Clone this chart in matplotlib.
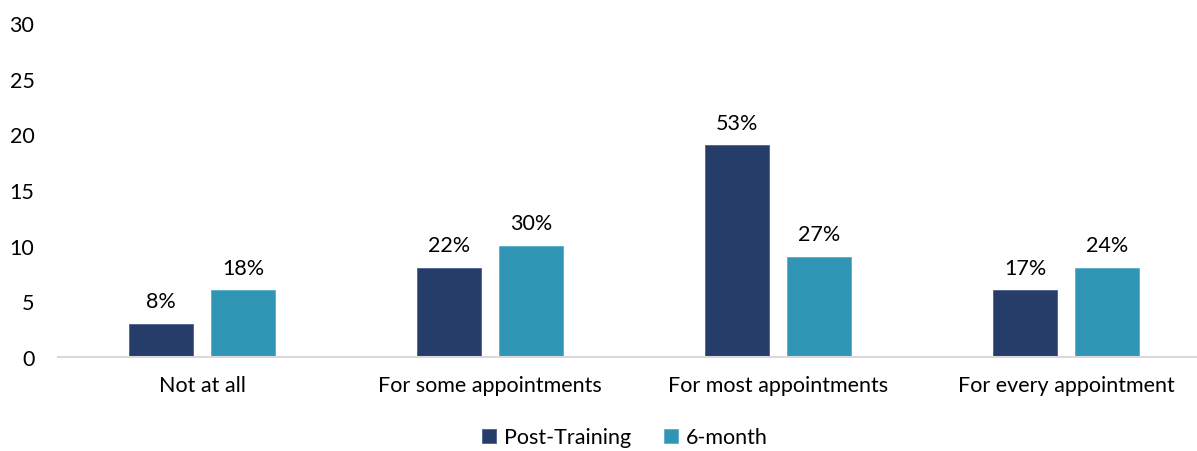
import matplotlib.pyplot as plt
import numpy as np

plt.rcParams['font.family'] = ['Lato', 'DejaVu Sans']

# data
categories = ["Not at all", "For some appointments", "For most appointments", "For every appointment"]
post_training = [3, 8, 19, 6]
six_month = [6, 10, 9, 8]
post_labels = ["8%", "22%", "53%", "17%"]
six_labels = ["18%", "30%", "27%", "24%"]
y_ticks = [0, 5, 10, 15, 20, 25, 30]

navy = "#263d6a"
teal = "#3196b5"
fs = 15.5

fig = plt.figure(figsize=(11.97, 4.52), dpi=100)
ax = fig.add_axes([58 / 1197, 94 / 452, 1139 / 1197, 334 / 452])

x = np.arange(len(categories))
w = 0.222
off = 0.142
b1 = ax.bar(x - off, post_training, w, color=navy, edgecolor="#4a6290", linewidth=0.6, label="Post-Training")
b2 = ax.bar(x + off, six_month, w, color=teal, edgecolor="#5aaecb", linewidth=0.6, label="6-month")

for bars, labs in [(b1, post_labels), (b2, six_labels)]:
    for rect, lab in zip(bars, labs):
        ax.annotate(lab, (rect.get_x() + rect.get_width() / 2, rect.get_height()),
                    xytext=(0, 12), textcoords="offset points",
                    ha="center", va="baseline", fontsize=fs, color="#000000")

ax.set_xlim(-0.5, -0.5 + 1139 / 288)
ax.set_ylim(0, 30)
ax.set_yticks(y_ticks)
ax.set_xticks(x)
ax.set_xticklabels(categories)
ax.tick_params(axis="y", length=0, pad=17, labelsize=fs, labelcolor="#000000")
ax.tick_params(axis="x", length=0, pad=13, labelsize=fs, labelcolor="#000000")

for s in ["top", "right", "left"]:
    ax.spines[s].set_visible(False)
ax.spines["bottom"].set_color("#d9d9d9")
ax.spines["bottom"].set_linewidth(1.5)

fig.legend(handles=[b1, b2], loc="center", bbox_to_anchor=(0.522, 0.03), ncol=2,
           frameon=False, fontsize=fs, handlelength=0.65, handleheight=0.65,
           handletextpad=0.4, columnspacing=1.5, borderpad=0.1)

fig.savefig("out.png", dpi=100)
